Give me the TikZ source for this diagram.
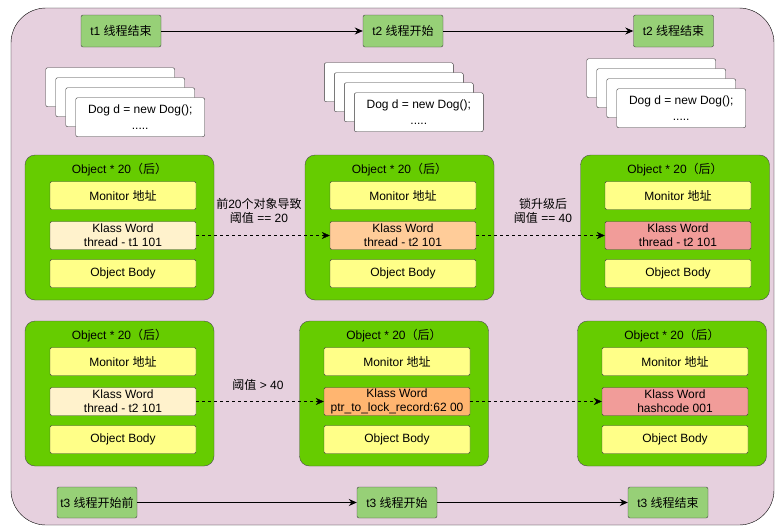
\documentclass[tikz,border=0pt]{standalone}
\usepackage{fontspec}
\setmainfont{Liberation Sans}
\newfontfamily\cjk{Noto Sans CJK SC}
\usepackage{tikz}
\usetikzlibrary{arrows.meta}

\definecolor{bgpink}{HTML}{E6D0DE}
\definecolor{stepgreen}{HTML}{97D077}
\definecolor{objgreen}{HTML}{66CC00}
\definecolor{fieldyellow}{HTML}{FFFF88}
\definecolor{klasspale}{HTML}{FFF2CC}
\definecolor{klasspeach}{HTML}{FFCC99}
\definecolor{klassorange}{HTML}{FFB570}
\definecolor{klassred}{HTML}{F19C99}

\tikzset{
	every node/.style={font=\fontsize{12}{14}\selectfont},
	stepbox/.style={draw=black!75, fill=stepgreen, rounded corners=2pt, minimum width=80pt, minimum height=32pt, inner sep=0pt},
	objbox/.style={draw=black!70, fill=objgreen, rounded corners=10pt, minimum width=189pt, minimum height=145pt},
	field/.style={draw=black!75, fill=fieldyellow, rounded corners=1.5pt, minimum width=146pt, minimum height=28pt, inner sep=0pt, align=center},
	docbox/.style={draw=black!80, fill=white, rounded corners=2pt, minimum width=129pt, minimum height=39pt, inner sep=0pt, align=center, font=\fontsize{12}{16}\selectfont},
	flow/.style={-{Stealth[length=8pt,width=7pt]}, thick},
	lockflow/.style={-{Stealth[length=8pt,width=7pt]}, dashed}
}

\begin{document}
\begin{tikzpicture}[x=1pt,y=-1pt]
	\useasboundingbox (0,0) rectangle (780,528);
	%background
	\draw[fill=bgpink, rounded corners=35pt] (11,8) rectangle (774,525);

	%thread steps
	\node[stepbox] (t1end)   at (121,31)    {t1 {\cjk 线程结束}};
	\node[stepbox] (t2start) at (403,31)    {t2 {\cjk 线程开始}};
	\node[stepbox] (t2end)   at (673.5,31)  {t2 {\cjk 线程结束}};
	\node[stepbox, minimum height=31pt] (t3pre)   at (97,502.5)  {t3 {\cjk 线程开始前}};
	\node[stepbox, minimum height=31pt] (t3start) at (397,502.5) {t3 {\cjk 线程开始}};
	\node[stepbox, minimum height=31pt] (t3end)   at (668,502.5) {t3 {\cjk 线程结束}};
	\draw[flow] (t1end) -- (t2start);
	\draw[flow] (t2start) -- (t2end);
	\draw[flow] (t3pre) -- (t3start);
	\draw[flow] (t3start) -- (t3end);

	%code stacks
	\foreach \i in {0,1,2} {
		\node[docbox] (dogL\i) at (110.2+10*\i, 87.2+10*\i) {};
		\node[docbox] (dogM\i) at (388.8+10*\i, 82.2+10*\i) {};
		\node[docbox] (dogR\i) at (651.2+10*\i, 78.2+10*\i) {};
	}
	\node[docbox] (dogL) at (140.2,117.2) {Dog d = new Dog();\\.....};
	\node[docbox] (dogM) at (418.8,112.2) {Dog d = new Dog();\\.....};
	\node[docbox] (dogR) at (681.2,108.2) {Dog d = new Dog();\\.....};

	%first row of objects
	\node[objbox] (objA) at (119.5,227.5) {};
	\node (titleA) at (119.5,170) {Object * 20{\cjk （后）}};
	\node[field] (monA)  at (123,195.5) {Monitor {\cjk 地址}};
	\node[field, fill=klasspale] (klassA) at (123,235.5) {Klass Word\\thread - t1 101};
	\node[field] (bodyA) at (123,273.5) {Object Body};
	%
	\node[objbox] (objB) at (399.5,227.5) {};
	\node (titleB) at (399.5,170) {Object * 20{\cjk （后）}};
	\node[field] (monB)  at (403,195.5) {Monitor {\cjk 地址}};
	\node[field, fill=klasspeach] (klassB) at (403,235.5) {Klass Word\\thread - t2 101};
	\node[field] (bodyB) at (403,273.5) {Object Body};
	%
	\node[objbox] (objC) at (675,227.5) {};
	\node (titleC) at (675,170) {Object * 20{\cjk （后）}};
	\node[field] (monC)  at (678,195.5) {Monitor {\cjk 地址}};
	\node[field, fill=klassred] (klassC) at (678,235.5) {Klass Word\\thread - t2 101};
	\node[field] (bodyC) at (678,273.5) {Object Body};

	%second row of objects
	\node[objbox] (objD) at (119.5,393.5) {};
	\node (titleD) at (119.5,336) {Object * 20{\cjk （后）}};
	\node[field] (monD)  at (123,361.5) {Monitor {\cjk 地址}};
	\node[field, fill=klasspale] (klassD) at (123,401.5) {Klass Word\\thread - t2 101};
	\node[field] (bodyD) at (123,439.5) {Object Body};
	%
	\node[objbox] (objE) at (394,393.5) {};
	\node (titleE) at (394,336) {Object * 20{\cjk （后）}};
	\node[field] (monE)  at (397,361.5) {Monitor {\cjk 地址}};
	\node[field, fill=klassorange] (klassE) at (397,401.5) {Klass Word\\ptr\_to\_lock\_record:62 00};
	\node[field] (bodyE) at (397,439.5) {Object Body};
	%
	\node[objbox] (objF) at (672,393.5) {};
	\node (titleF) at (672,336) {Object * 20{\cjk （后）}};
	\node[field] (monF)  at (675,361.5) {Monitor {\cjk 地址}};
	\node[field, fill=klassred] (klassF) at (675,401.5) {Klass Word\\hashcode 001};
	\node[field] (bodyF) at (675,439.5) {Object Body};

	%lock transitions
	\draw[lockflow] (klassA) -- (klassB);
	\draw[lockflow] (klassB) -- (klassC);
	\draw[lockflow] (klassD) -- (klassE);
	\draw[lockflow] (klassE) -- (klassF);

	%transition labels
	\node[align=center, inner sep=0pt] (labAB) at (259,210.5) {{\cjk 前}20{\cjk 个对象导致}\\{\cjk 阈值} == 20};
	\node[align=center, inner sep=0pt] (labBC) at (543,211)   {{\cjk 锁升级后}\\{\cjk 阈值} == 40};
	\node[inner sep=0pt] (labDE) at (258,385) {{\cjk 阈值} > 40};
\end{tikzpicture}
\end{document}
